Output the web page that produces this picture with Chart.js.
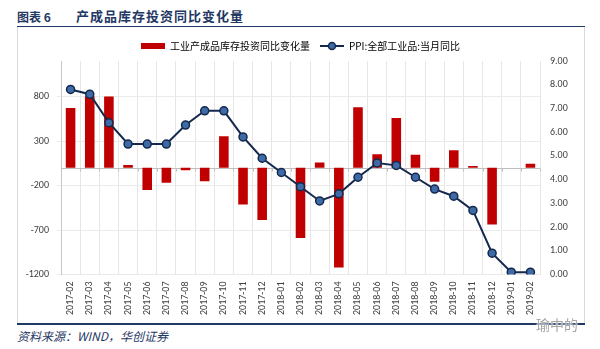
<!DOCTYPE html>
<html>
<head>
<meta charset="utf-8">
<script src="https://cdn.jsdelivr.net/npm/chart.js@4/dist/chart.umd.min.js"></script>
<style>
  body { margin: 0; width: 600px; height: 349px; background: #fff; position: relative; overflow: hidden;
         font-family: "Noto Sans CJK SC", sans-serif; }
  .title { position: absolute; top: 6px; font-weight: bold; color: #1f3864; white-space: nowrap; }
  #t1 { left: 17px; font-size: 12px; top: 8px; }
  #t2 { left: 76px; font-size: 13px; letter-spacing: 1px; }
  #topRule { position: absolute; left: 17px; top: 26px; width: 568px; height: 1px; background: #1f3864; }
  #frameL, #frameR { position: absolute; top: 27px; width: 1px; height: 296px; background: #d9d9d9; }
  #frameL { left: 17px; } #frameR { left: 584px; }
  #bottomRule { position: absolute; left: 17px; top: 323px; width: 568px; height: 2px; background: #1f3864; }
  #source { position: absolute; left: 17px; top: 327px; font-size: 12px; font-style: italic; color: #1f3864; }
  #mark { position: absolute; left: 536px; top: 314px; font-size: 14px; color: #a6a6a6;
          text-shadow: 0 0 2px #fff, 0 0 2px #fff; }
  #box { position: absolute; left: 17px; top: 28px; width: 567px; height: 295px; }
</style>
</head>
<body>
<div class="title" id="t1">图表 6</div>
<div class="title" id="t2">产成品库存投资同比变化量</div>
<div id="topRule"></div>
<div id="frameL"></div>
<div id="frameR"></div>
<div id="box"><canvas id="chart" width="567" height="295"></canvas></div>
<div id="bottomRule"></div>
<div id="source">资料来源：WIND，华创证券</div>
<div id="mark">瑜中的</div>
<script>
// months on the category axis
const months = [
  "2017-02", "2017-03", "2017-04", "2017-05", "2017-06", "2017-07", "2017-08",
  "2017-09", "2017-10", "2017-11", "2017-12", "2018-01", "2018-02", "2018-03",
  "2018-04", "2018-05", "2018-06", "2018-07", "2018-08", "2018-09", "2018-10",
  "2018-11", "2018-12", "2019-01", "2019-02",
];
// finished goods inventory investment, YoY change (left axis)
const stockChange = [
  673, 805, 800, 32, -251, -168, -28, -153, 353, -413, -586, 0, -790,
  59, -1122, 681, 153, 560, 145, -156, 198, 20, -639, 0, 45,
];
// PPI all industrial products, YoY % (right axis)
const ppiYoY = [
  7.8, 7.6, 6.4, 5.5, 5.5, 5.5, 6.3, 6.9, 6.9, 5.8, 4.9, 4.3, 3.7,
  3.1, 3.4, 4.1, 4.7, 4.6, 4.1, 3.6, 3.3, 2.7, 0.9, 0.1, 0.1,
];
const seriesNames = ["工业产成品库存投资同比变化量", "PPI:全部工业品:当月同比"];
const leftTicks = [-1200, -700, -200, 300, 800];

const RED = "#c00000";
const NAVY = "#14294d";
const DOT = "#3e6aa6";

// legend swatches
function barSwatch() {
  const c = document.createElement("canvas");
  c.width = 24; c.height = 6;
  const g = c.getContext("2d");
  g.fillStyle = RED;
  g.fillRect(0, 0, 24, 6);
  return c;
}
function lineSwatch() {
  const c = document.createElement("canvas");
  c.width = 24; c.height = 10;
  const g = c.getContext("2d");
  g.strokeStyle = NAVY; g.lineWidth = 2;
  g.beginPath(); g.moveTo(0, 5); g.lineTo(24, 5); g.stroke();
  g.beginPath(); g.arc(12, 5, 3.5, 0, Math.PI * 2);
  g.fillStyle = DOT; g.fill();
  g.lineWidth = 1.5; g.stroke();
  return c;
}

// zero line with small ticks at each category boundary
const zeroLine = {
  id: "zeroLine",
  beforeDatasetsDraw(chart) {
    const { ctx, chartArea: a, scales: { x, y } } = chart;
    const y0 = Math.round(y.getPixelForValue(0)) + 0.5;
    ctx.save();
    ctx.strokeStyle = "#bfbfbf";
    ctx.lineWidth = 1;
    ctx.beginPath();
    ctx.moveTo(a.left, y0);
    ctx.lineTo(a.right, y0);
    for (let i = 0; i <= months.length; i++) {
      const px = Math.round(x.getPixelForValue(i - 0.5)) + 0.5;
      ctx.moveTo(px, y0);
      ctx.lineTo(px, y0 + 3);
    }
    ctx.stroke();
    ctx.restore();
  },
};

Chart.defaults.font.family = 'Carlito, Lato, "Noto Sans CJK SC", sans-serif';
Chart.defaults.color = "#404040";

new Chart(document.getElementById("chart"), {
  type: "bar",
  plugins: [zeroLine],
  data: {
    labels: months,
    datasets: [
      {
        type: "bar",
        label: seriesNames[0],
        data: stockChange,
        backgroundColor: RED,
        barPercentage: 0.5,
        categoryPercentage: 1,
        yAxisID: "y",
        order: 2,
      },
      {
        type: "line",
        label: seriesNames[1],
        data: ppiYoY,
        borderColor: NAVY,
        borderWidth: 2,
        pointRadius: 4,
        pointBackgroundColor: DOT,
        pointBorderColor: NAVY,
        pointBorderWidth: 1.5,
        tension: 0,
        yAxisID: "y1",
        order: 1,
      },
    ],
  },
  options: {
    responsive: false,
    animation: false,
    layout: { padding: { top: 3 } },
    plugins: {
      tooltip: { enabled: false },
      legend: {
        position: "top",
        labels: {
          usePointStyle: true,
          pointStyleWidth: 24,
          padding: 10,
          color: "#404040",
          font: { size: 10, family: '"Noto Sans CJK SC", sans-serif' },
          generateLabels: () => [
            { text: seriesNames[0], pointStyle: barSwatch(), lineWidth: 0, datasetIndex: 0 },
            { text: seriesNames[1], pointStyle: lineSwatch(), lineWidth: 0, datasetIndex: 1 },
          ],
        },
      },
    },
    scales: {
      x: {
        offset: true,
        grid: { offset: true, color: "#e6e6e6", drawTicks: false },
        border: { display: false },
        ticks: { minRotation: 90, maxRotation: 90, autoSkip: false, padding: 7, font: { size: 10 } },
        afterFit(s) { s.height = 48.5; },
      },
      y: {
        position: "left",
        min: -1200,
        max: 1200,
        afterBuildTicks(s) { s.ticks = leftTicks.map((v) => ({ value: v })); },
        grid: { color: "#ebebeb", tickLength: 4 },
        border: { display: true, color: "#c8c8c8" },
        ticks: { padding: 8, font: { size: 10 }, callback: (v) => String(v) },
        afterFit(s) { s.width = 44; },
      },
      y1: {
        position: "right",
        min: 0,
        max: 9,
        grid: { display: false, drawTicks: false },
        border: { display: false },
        ticks: { stepSize: 1, padding: 10, font: { size: 10 }, callback: (v) => v.toFixed(2) },
        afterFit(s) { s.width = 44; },
      },
    },
  },
});
</script>
</body>
</html>
